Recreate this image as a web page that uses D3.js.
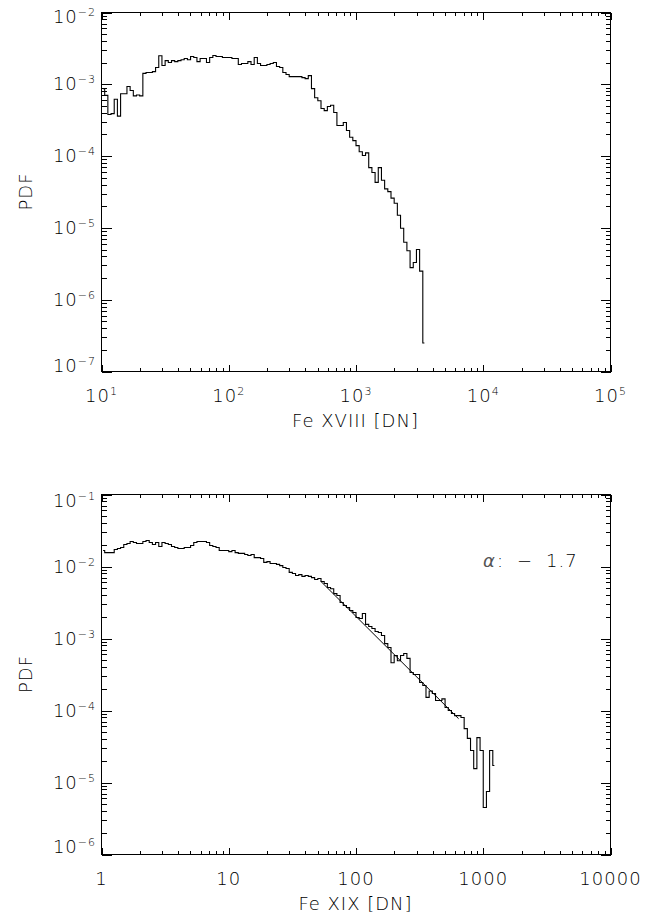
<!DOCTYPE html>
<html><head><meta charset="utf-8">
<script src="https://cdn.jsdelivr.net/npm/d3@7"></script>
<style>
body{margin:0;background:#fff;}
svg text{font-family:"DejaVu Sans",sans-serif;font-weight:200;fill:#000;}
</style></head><body>
<svg id="chart" width="658" height="915"></svg>
<script>
// ---------------- data ----------------
// histograms with logarithmic bins (40 bins per decade)
const binsPerDecade = 40;
const fe18FirstEdgeDN = 10;
const fe18Pdf = [
 8.7e-4,7.0e-4,3.8e-4,3.9e-4,6.2e-4,3.6e-4,7.4e-4,7.4e-4,9.3e-4,8.2e-4,
 6.9e-4,7.1e-4,6.9e-4,1.42e-3,1.46e-3,1.46e-3,1.5e-3,1.71e-3,2.5e-3,1.83e-3,
 2.14e-3,2.01e-3,2.14e-3,2.07e-3,2.14e-3,2.2e-3,2.29e-3,2.2e-3,2.44e-3,2.36e-3,
 2.07e-3,2.29e-3,2.29e-3,2.01e-3,2.36e-3,2.52e-3,2.44e-3,2.44e-3,2.36e-3,2.36e-3,
 2.36e-3,2.29e-3,2.29e-3,1.89e-3,1.95e-3,1.95e-3,2.07e-3,1.89e-3,2.36e-3,1.95e-3,
 1.83e-3,1.83e-3,1.89e-3,1.95e-3,2.01e-3,1.77e-3,1.71e-3,1.46e-3,1.37e-3,1.28e-3,
 1.28e-3,1.28e-3,1.28e-3,1.24e-3,1.20e-3,1.32e-3,8.7e-4,6.5e-4,5.9e-4,4.6e-4,
 4.3e-4,4.9e-4,5.1e-4,4.05e-4,2.67e-4,2.67e-4,2.94e-4,2.27e-4,1.83e-4,1.64e-4,
 1.40e-4,1.15e-4,1.02e-4,1.11e-4,6.9e-5,5.9e-5,4.3e-5,6.9e-5,4.6e-5,3.5e-5,
 3.2e-5,2.6e-5,2.2e-5,1.5e-5,9.9e-6,6.3e-6,4.8e-6,2.8e-6,3.3e-6,5.0e-6,
 2.5e-6,2.5e-7
];
const fe19FirstEdgeDN = 1;
const fe19Pdf = [
 1.67e-2,1.56e-2,1.56e-2,1.56e-2,1.72e-2,1.78e-2,1.84e-2,2.02e-2,2.09e-2,2.22e-2,
 2.15e-2,2.09e-2,2.09e-2,2.22e-2,2.30e-2,2.15e-2,2.02e-2,2.15e-2,1.90e-2,2.15e-2,
 2.09e-2,2.02e-2,1.90e-2,1.84e-2,1.78e-2,1.78e-2,1.84e-2,1.84e-2,1.96e-2,2.15e-2,
 2.22e-2,2.22e-2,2.22e-2,2.15e-2,1.96e-2,1.90e-2,1.84e-2,1.67e-2,1.67e-2,1.67e-2,
 1.61e-2,1.67e-2,1.56e-2,1.52e-2,1.52e-2,1.47e-2,1.42e-2,1.47e-2,1.33e-2,1.33e-2,
 1.29e-2,1.14e-2,1.17e-2,1.10e-2,1.10e-2,1.07e-2,1.03e-2,9.7e-3,9.4e-3,8.3e-3,
 8.0e-3,7.5e-3,7.7e-3,7.3e-3,7.5e-3,7.3e-3,7.0e-3,6.6e-3,6.8e-3,6.2e-3,
 5.8e-3,5.1e-3,4.9e-3,4.2e-3,3.96e-3,3.16e-3,2.87e-3,2.70e-3,2.45e-3,2.3e-3,
 1.96e-3,1.9e-3,2.22e-3,1.57e-3,1.47e-3,1.38e-3,1.25e-3,1.21e-3,1.10e-3,8.5e-4,
 7.5e-4,4.6e-4,5.8e-4,4.9e-4,5.8e-4,6.2e-4,5.3e-4,3.37e-4,3.16e-4,3.16e-4,
 2.45e-4,2.22e-4,1.52e-4,1.87e-4,1.72e-4,1.38e-4,1.38e-4,1.45e-4,1.10e-4,1.0e-4,
 9.1e-5,8.5e-5,8.5e-5,8.0e-5,5.6e-5,4.1e-5,2.78e-5,1.56e-5,4.2e-5,2.78e-5,
 4.5e-6,7.5e-6,2.78e-5,1.72e-5
];
// power-law fit line (end points)
const fitDN  = [53, 640];
const fitPdf = [6.2e-3, 7.7e-5];
const fitLabel = ["\u03B1", ":", "\u2212", "1.7"];

// axes / ticks
const topXDomain = [10, 1e5];
const topYDomain = [1e-7, 1e-2];
const topXExp = [1, 2, 3, 4, 5];
const topYExp = [-7, -6, -5, -4, -3, -2];
const botXDomain = [1, 1e4];
const botYDomain = [1e-6, 1e-1];
const botXLabels = ["1", "10", "100", "1000", "10000"];
const botYExp = [-6, -5, -4, -3, -2, -1];
const topXTitle = "Fe XVIII [DN]";
const botXTitle = "Fe XIX [DN]";
const yTitle = "PDF";

// ---------------- drawing ----------------
const svg = d3.select("#chart");
const L = 101, R = 610;
const panels = [
  {top: 12, bottom: 371, xd: topXDomain, yd: topYDomain, pdf: fe18Pdf, first: fe18FirstEdgeDN,
   xlab: topXExp.map(e => ({v: Math.pow(10, e), base: "10", exp: String(e)})),
   ylab: topYExp, yShift: [-5.5, 4], title: topXTitle},
  {top: 494, bottom: 854, xd: botXDomain, yd: botYDomain, pdf: fe19Pdf, first: fe19FirstEdgeDN,
   xlab: botXLabels.map(s => ({v: +s, base: s, exp: null})),
   ylab: botYExp, yShift: [-7.5, 6.5], title: botXTitle, fit: true}
];
const minus = s => s.replace("-", "\u2212");
const isPow10 = v => Math.abs(Math.log10(v) - Math.round(Math.log10(v))) < 1e-6;

panels.forEach(p => {
  const x = d3.scaleLog().domain(p.xd).range([L, R]);
  const y = d3.scaleLog().domain(p.yd).range([p.bottom, p.top]);
  const g = svg.append("g").attr("transform", "translate(0.5,0.5)");

  const xMaj = x.ticks().filter(isPow10), xMin = x.ticks().filter(v => !isPow10(v));
  const yMaj = y.ticks().filter(isPow10), yMin = y.ticks().filter(v => !isPow10(v));

  const axes = [
    [d3.axisBottom(x), p.bottom, 0, xMaj, xMin, 7, 3.5],
    [d3.axisTop(x), p.top, 0, xMaj, xMin, 7, 3.5],
    [d3.axisLeft(y), 0, L, yMaj, yMin, 10, 5],
    [d3.axisRight(y), 0, R, yMaj, yMin, 10, 5]
  ];
  axes.forEach(([ax, ty, tx, maj, mn, lMaj, lMin]) => {
    [[maj, lMaj], [mn, lMin]].forEach(([vals, len]) => {
      const a = g.append("g").attr("transform", `translate(${tx},${ty})`)
        .call(ax.tickValues(vals).tickSize(-len).tickSizeOuter(0).tickFormat(""));
      a.select(".domain").remove();
      a.selectAll("line").attr("stroke", "#000").attr("stroke-width", 1).attr("shape-rendering", "crispEdges");
    });
  });
  g.append("rect").attr("x", L).attr("y", p.top).attr("width", R - L).attr("height", p.bottom - p.top)
    .attr("fill", "none").attr("stroke", "#000").attr("stroke-width", 1).attr("shape-rendering", "crispEdges");

  // y tick labels
  p.ylab.forEach((e, i) => {
    let off = 6.5;
    if (i === 0) off += p.yShift[0];
    if (i === p.ylab.length - 1) off += p.yShift[1];
    const t = svg.append("text").attr("x", 96).attr("y", y(Math.pow(10, e)) + off)
      .attr("text-anchor", "end").style("font-size", "18px").style("letter-spacing", "1px");
    t.append("tspan").text("10");
    t.append("tspan").attr("dy", -7).style("font-size", "11px").text(minus(String(e)));
  });
  // x tick labels
  p.xlab.forEach(d => {
    const t = svg.append("text").attr("x", x(d.v) + 0.5).attr("y", p.bottom + 31)
      .attr("text-anchor", "middle").style("font-size", "18px").style("letter-spacing", "1px");
    t.append("tspan").text(d.base);
    if (d.exp) t.append("tspan").attr("dy", -7).style("font-size", "11px").text(d.exp);
  });
  // titles
  svg.append("text").attr("x", (L + R) / 2).attr("y", p.bottom + 56).attr("text-anchor", "middle")
    .style("font-size", "18px").style("letter-spacing", "1px").text(p.title);
  svg.append("text").attr("transform", `translate(32,${(p.top + p.bottom) / 2}) rotate(-90)`)
    .attr("text-anchor", "middle").style("font-size", "18px").style("letter-spacing", "1px").text(yTitle);

  // histogram
  const pts = p.pdf.map((v, i) => ({dn: p.first * Math.pow(10, (i + 0.5) / binsPerDecade), pdf: v}));
  g.append("path").datum(pts)
    .attr("d", d3.line().x(d => x(d.dn)).y(d => y(d.pdf)).curve(d3.curveStep))
    .attr("fill", "none").attr("stroke", "#000").attr("stroke-width", 1.1);

  if (p.fit) {
    const fp = fitDN.map((v, i) => ({dn: v, pdf: fitPdf[i]}));
    g.append("path").datum(fp)
      .attr("d", d3.line().x(d => x(d.dn)).y(d => y(d.pdf)))
      .attr("fill", "none").attr("stroke", "#000").attr("stroke-width", 1);
    const ty = 567;
    svg.append("text").attr("x", 483).attr("y", ty).style("font-size", "18px").style("font-style", "italic")
      .style("font-weight", "400").style("fill", "#555").text(fitLabel[0]);
    svg.append("text").attr("x", 497).attr("y", ty).style("font-size", "18px").text(fitLabel[1]);
    svg.append("text").attr("x", 517).attr("y", ty).style("font-size", "18px").text(fitLabel[2]);
    svg.append("text").attr("x", 546).attr("y", ty).style("font-size", "18px").style("letter-spacing", "1px").text(fitLabel[3]);
  }
});
</script>
</body></html>
